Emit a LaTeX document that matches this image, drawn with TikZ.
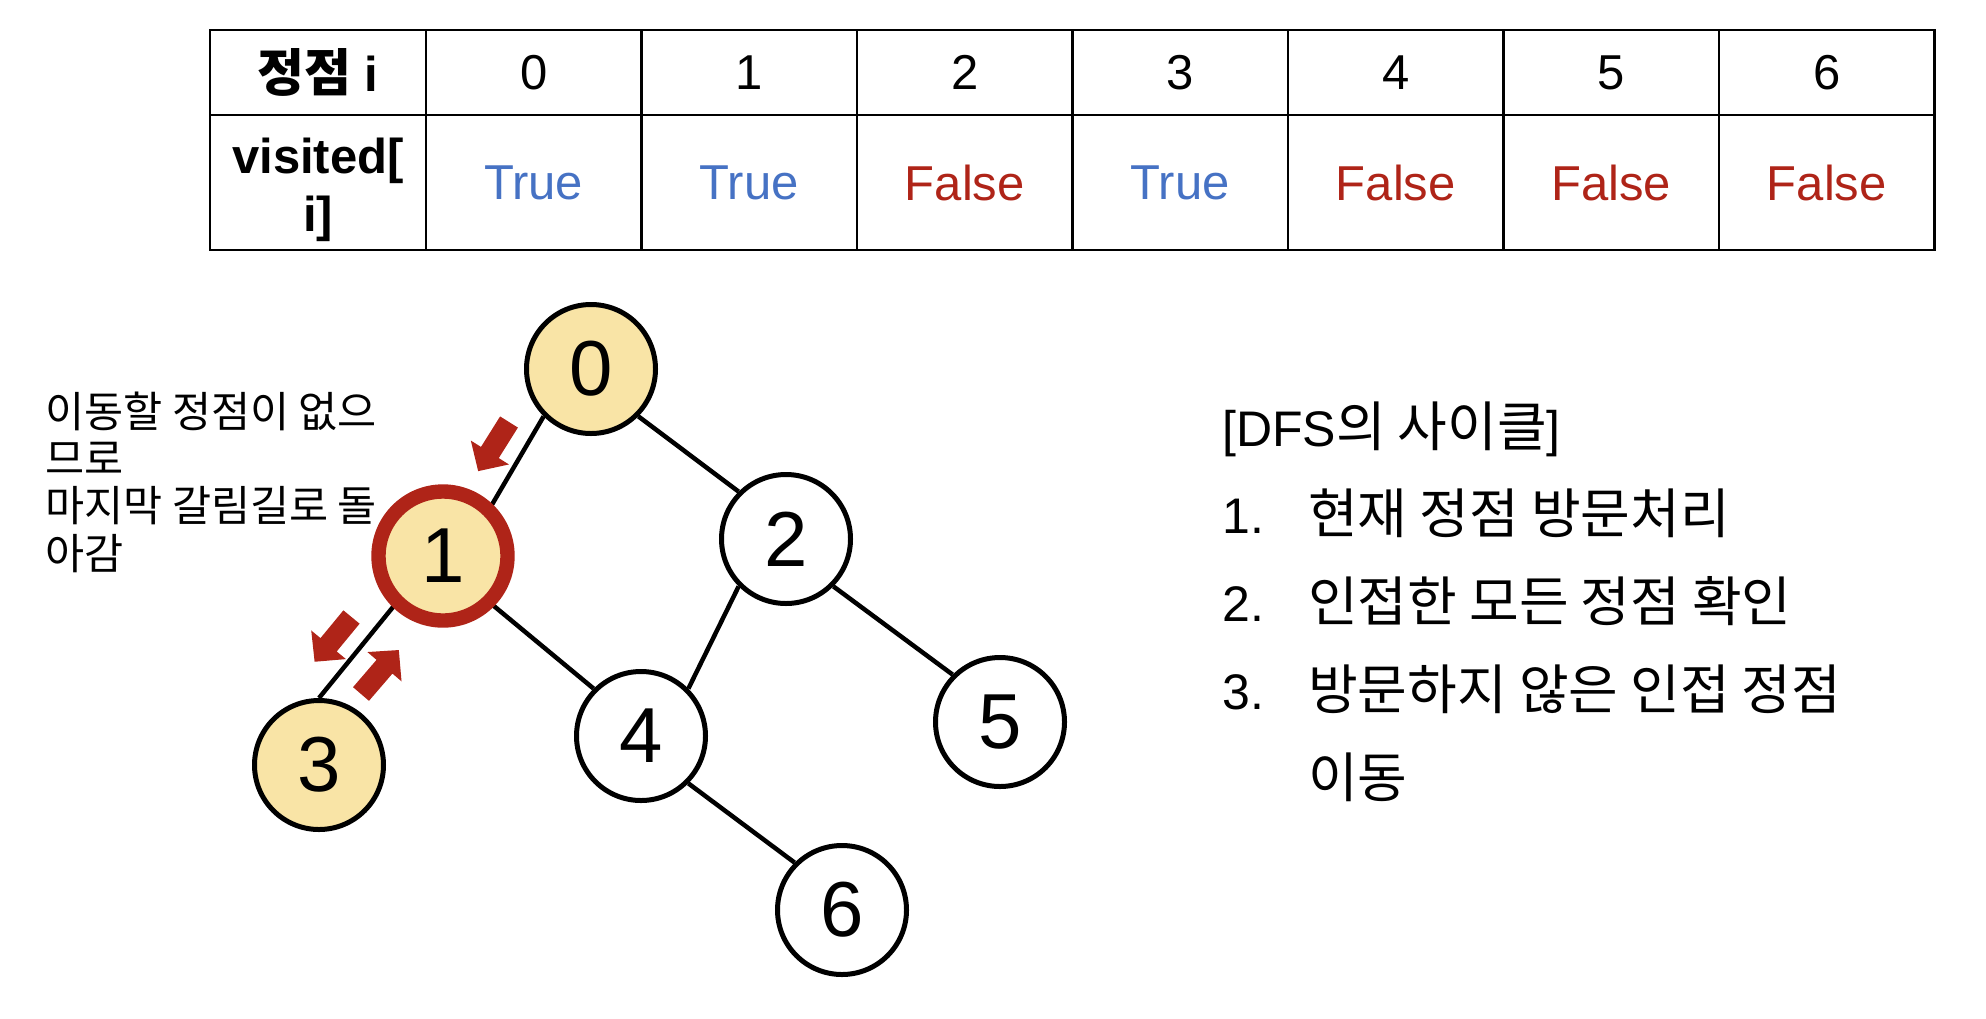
\documentclass[tikz,border=0pt]{standalone}
\usepackage{fontspec}
\usetikzlibrary{backgrounds}
\setmainfont{Liberation Sans}
\newfontfamily\kr{Noto Sans CJK KR}
\definecolor{nodeyel}{RGB}{249,228,166}
\definecolor{dred}{RGB}{175,36,24}
\definecolor{tblue}{RGB}{70,114,196}
\newcommand\blockarrow[3]{%
  \fill[dred, shift={(#1,#2)}, rotate=#3]
    (0,-10.5) -- (36,-10.5) -- (36,-22.5) -- (58,0) -- (36,22.5) -- (36,10.5) -- (0,10.5) -- cycle;}
\newcommand\krbig[1]{{\kr\fontsize{54}{60}\selectfont #1}}
\begin{document}
\begin{tikzpicture}[x=1pt,y=-1pt,
  vert/.style={circle, draw=black, line width=5pt, minimum size=129pt, inner sep=0pt,
    font=\fontsize{78}{80}\selectfont},
  visitedv/.style={vert, fill=nodeyel},
  edge/.style={line width=4.5pt, draw=black},
  tline/.style={line width=2.2pt, draw=black, line cap=rect},
  cell/.style={inner sep=0pt, font=\fontsize{49}{58}\selectfont},
  hcell/.style={inner sep=0pt, font=\bfseries\fontsize{49}{58}\selectfont},
  rt/.style={inner sep=0pt, anchor=base west, font=\fontsize{50}{56}\selectfont},
  note/.style={inner sep=0pt, anchor=base west, font=\kr\fontsize{42.5}{47}\selectfont}]
\useasboundingbox (0,0) rectangle (1986,1018);
% table grid
\draw[tline] (210,30) -- (210,250);
\foreach \i in {0,...,7} \draw[tline] ({426+215.5*\i},30) -- ({426+215.5*\i},250);
\foreach \yy in {30,115,250} \draw[tline] (210,\yy) -- (1934.5,\yy);
% header row
\node[hcell] (hh) at (318,72.5) {{\kr\fontsize{51}{58}\selectfont 정점} i};
\foreach \k in {0,...,6} \node[cell] (c\k) at ({426+215.5*(\k+0.5)},72.5) {\k};
% visited row
\node[hcell, anchor=base] (vis1) at (318,173.5) {visited[};
\node[hcell, anchor=base] (vis2) at (318,231.5) {i]};
\foreach \k/\t/\c in {0/True/tblue,1/True/tblue,2/False/dred,3/True/tblue,4/False/dred,5/False/dred,6/False/dred}
  \node[cell, text=\c] (v\k) at ({426+215.5*(\k+0.5)},182.5) {\t};
% graph nodes
\node[visitedv] (n0) at (591,369) {0};
\node[visitedv, draw=dred, line width=14.4pt, outer sep=0pt] (n1) at (443,556) {1};
\node[vert] (n2) at (786,539) {2};
\node[visitedv] (n3) at (319,765) {3};
\node[vert] (n4) at (641,736) {4};
\node[vert] (n5) at (1000,722) {5};
\node[vert] (n6) at (842,910) {6};
% edges (connection points at 45-degree sites)
\begin{scope}[on background layer]
\draw[edge] (n0.south west) -- (n1.north east);
\draw[edge] (n0.south east) -- (n2.north west);
\draw[edge] (n1.south west) -- (n3.north);
\draw[edge] (n1.south east) -- (n4.north west);
\draw[edge] (n2.south west) -- (n4.north east);
\draw[edge] (n2.south east) -- (n5.north west);
\draw[edge] (n4.south east) -- (n6.north west);
\end{scope}
% red block arrows
\blockarrow{509}{422}{237.9}
\blockarrow{351.5}{617}{230.5}
\blockarrow{361}{694}{49.3}
% left note
\node[note] (m1) at (45,427) {이동할 정점이 없으};
\node[note] (m2) at (45,474) {므로};
\node[note] (m3) at (45,521) {마지막 갈림길로 돌};
\node[note] (m4) at (45,569) {아감};
% right text
\node[rt] (t0) at (1222,446) {[DFS\krbig{의 사이클}]};
\node[rt] (t1n) at (1222,533) {1.};
\node[rt] (t1) at (1308,533) {\krbig{현재 정점 방문처리}};
\node[rt] (t2n) at (1222,621) {2.};
\node[rt] (t2) at (1308,621) {\krbig{인접한 모든 정점 확인}};
\node[rt] (t3n) at (1222,709) {3.};
\node[rt] (t3) at (1308,709) {\krbig{방문하지 않은 인접 정점}};
\node[rt] (t4) at (1308,797) {\krbig{이동}};
\end{tikzpicture}
\end{document}
